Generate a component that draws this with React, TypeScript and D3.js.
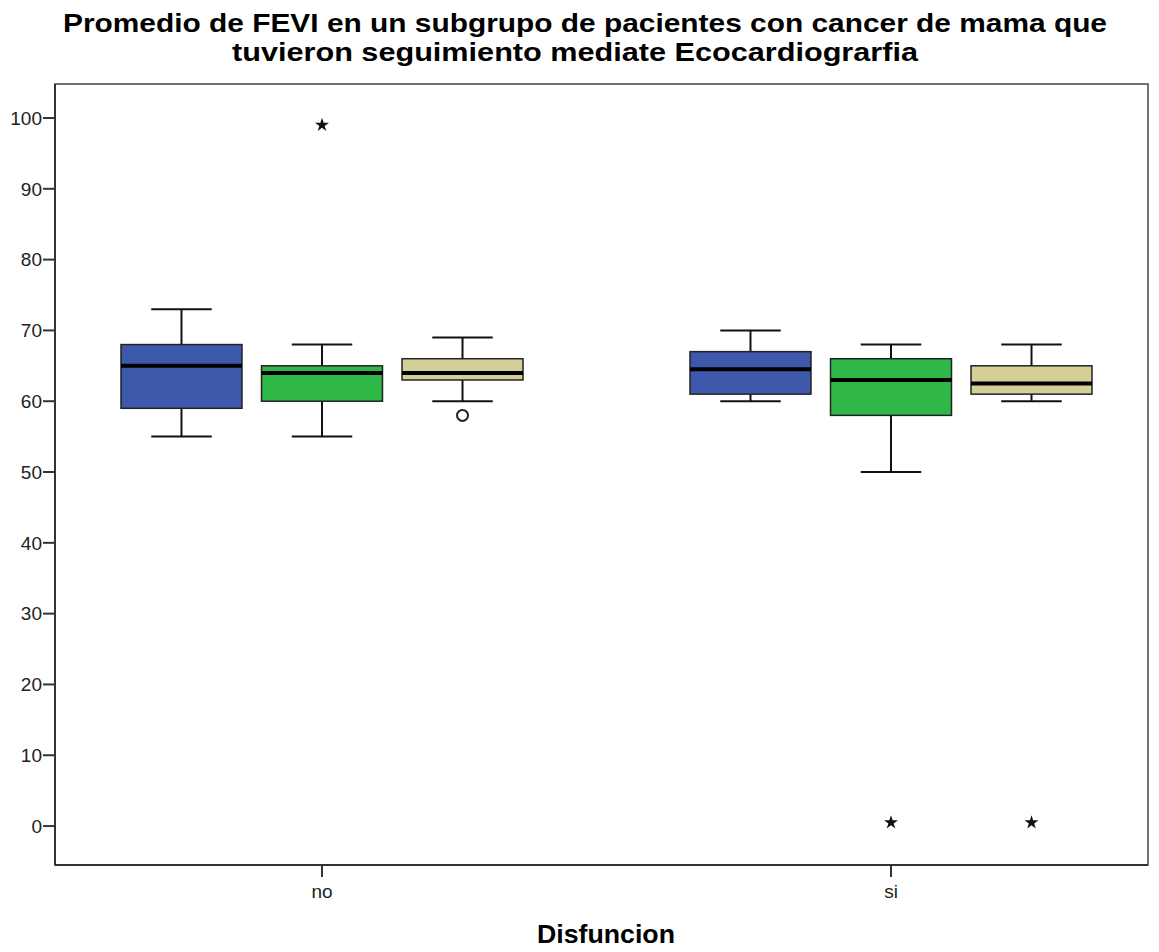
import React from "react";
import * as d3 from "d3";

// categories on the x axis
const groups = ["no", "si"];

// three FEVI measurements per group (min, q1, median, q3, max)
const seriesNames = ["FEVI 1", "FEVI 2", "FEVI 3"];
const seriesColors = ["#3e58ab", "#2fb848", "#d4cf97"];

const fevi1 = [
  { group: "no", min: 55, q1: 59, median: 65, q3: 68, max: 73 },
  { group: "si", min: 60, q1: 61, median: 64.5, q3: 67, max: 70 },
];
const fevi2 = [
  { group: "no", min: 55, q1: 60, median: 64, q3: 65, max: 68 },
  { group: "si", min: 50, q1: 58, median: 63, q3: 66, max: 68 },
];
const fevi3 = [
  { group: "no", min: 60, q1: 63, median: 64, q3: 66, max: 69 },
  { group: "si", min: 60, q1: 61, median: 62.5, q3: 65, max: 68 },
];

// outliers: circle = mild, star = extreme
const outliers = [
  { group: "no", series: "FEVI 2", value: 99, kind: "star" },
  { group: "no", series: "FEVI 3", value: 58, kind: "circle" },
  { group: "si", series: "FEVI 2", value: 0.5, kind: "star" },
  { group: "si", series: "FEVI 3", value: 0.5, kind: "star" },
];

const yTicks = [0, 10, 20, 30, 40, 50, 60, 70, 80, 90, 100];

const width = 1159;
const height = 952;
const margin = { top: 84, right: 11, bottom: 87, left: 55 };
const font = "'Liberation Sans', Arial, sans-serif";

const App = () => {
  const left = margin.left;
  const right = width - margin.right;
  const top = margin.top;
  const bottom = height - margin.bottom;

  const y = d3.scaleLinear().domain([-5.5, 104.8]).range([bottom, top]);
  const x = d3.scalePoint().domain(groups).range([322, 891]);
  const xInner = d3
    .scaleBand()
    .domain(seriesNames)
    .range([-201, 201])
    .paddingInner(0.139);
  const color = d3.scaleOrdinal().domain(seriesNames).range(seriesColors);

  const allSeries = [fevi1, fevi2, fevi3];
  const boxes = allSeries.flatMap((s, i) =>
    s.map((d) => ({ ...d, series: seriesNames[i] }))
  );
  const bw = xInner.bandwidth();
  const star = d3.symbol().type(d3.symbolStar).size(60);

  return (
    <svg width={width} height={height} style={{ display: "block", position: "absolute", left: 0, top: 0 }}>
      <rect width={width} height={height} fill="#fff" />
      <text x={585} y={32} textAnchor="middle" fontFamily={font} fontWeight="bold" fontSize={25} textLength={1044} lengthAdjust="spacingAndGlyphs">
        Promedio de FEVI en un subgrupo de pacientes con cancer de mama que
      </text>
      <text x={575} y={61} textAnchor="middle" fontFamily={font} fontWeight="bold" fontSize={25} textLength={686} lengthAdjust="spacingAndGlyphs">
        tuvieron seguimiento mediate Ecocardiograrfia
      </text>

      {/* frame */}
      <rect x={left} y={top} width={right - left} height={bottom - top} fill="none" stroke="#444" strokeWidth={1.5} />
      <line x1={left} x2={left} y1={top} y2={bottom} stroke="#333" strokeWidth={2} />
      <line x1={left} x2={right} y1={bottom} y2={bottom} stroke="#333" strokeWidth={2} />

      {/* y axis */}
      {yTicks.map((t) => (
        <g key={t} transform={`translate(${left},${y(t)})`}>
          <line x1={-12} x2={0} stroke="#333" strokeWidth={2} />
          <text x={-13} dy="0.36em" textAnchor="end" fontFamily={font} fontSize={19} fill="#222">
            {t}
          </text>
        </g>
      ))}

      {/* x axis */}
      {groups.map((g) => (
        <g key={g} transform={`translate(${x(g)},${bottom})`}>
          <line y1={0} y2={12} stroke="#333" strokeWidth={2} />
          <text y={33} textAnchor="middle" fontFamily={font} fontSize={19} fill="#222">
            {g}
          </text>
        </g>
      ))}
      <text x={606} y={943} textAnchor="middle" fontFamily={font} fontWeight="bold" fontSize={26} textLength={138} lengthAdjust="spacingAndGlyphs">
        Disfuncion
      </text>

      {/* boxes */}
      {boxes.map((d) => {
        const cx = x(d.group) + xInner(d.series) + bw / 2;
        const x0 = cx - bw / 2;
        return (
          <g key={d.group + d.series}>
            <line x1={cx} x2={cx} y1={y(d.max)} y2={y(d.q3)} stroke="#111" strokeWidth={2} />
            <line x1={cx} x2={cx} y1={y(d.q1)} y2={y(d.min)} stroke="#111" strokeWidth={2} />
            <line x1={cx - bw / 4} x2={cx + bw / 4} y1={y(d.max)} y2={y(d.max)} stroke="#111" strokeWidth={2} />
            <line x1={cx - bw / 4} x2={cx + bw / 4} y1={y(d.min)} y2={y(d.min)} stroke="#111" strokeWidth={2} />
            <rect x={x0} y={y(d.q3)} width={bw} height={y(d.q1) - y(d.q3)} fill={color(d.series)} stroke="#222" strokeWidth={1.5} />
            <line x1={x0} x2={x0 + bw} y1={y(d.median)} y2={y(d.median)} stroke="#000" strokeWidth={4} />
          </g>
        );
      })}

      {/* outliers */}
      {outliers.map((o, i) => {
        const cx = x(o.group) + xInner(o.series) + bw / 2;
        return o.kind === "star" ? (
          <path key={i} d={star()} transform={`translate(${cx},${y(o.value)})`} fill="#111" />
        ) : (
          <circle key={i} cx={cx} cy={y(o.value)} r={5.5} fill="#fff" stroke="#222" strokeWidth={2} />
        );
      })}
    </svg>
  );
};

export default App;
